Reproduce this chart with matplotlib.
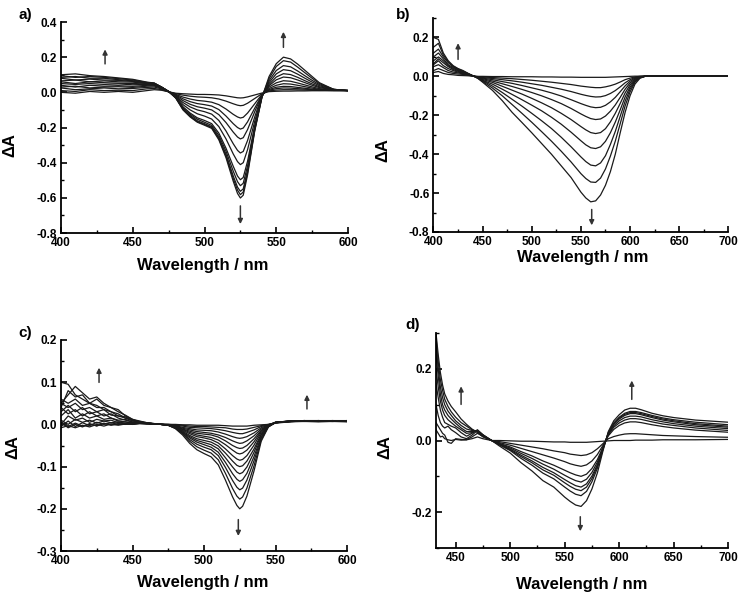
import matplotlib
matplotlib.use("Agg")
import matplotlib.pyplot as plt
import numpy as np

plt.rcParams["font.family"] = ["Liberation Sans", "DejaVu Sans"]
plt.rcParams["font.weight"] = "bold"

# ---------------- panel a ----------------
wl_a = [400, 410, 420, 430, 440, 450, 460, 465, 470, 475, 480, 485, 490, 495, 500, 505, 510, 515,
        520, 523, 525, 527, 530, 535, 540, 545, 550, 555, 560, 565, 570, 575, 580, 590, 600]
curves_a = [
    [0.00, -0.005, 0.005, 0.0, 0.005, 0.0, 0.01, 0.015, 0.012, 0.003, -0.005, -0.008, -0.01, -0.012, -0.012, -0.013, -0.015, -0.02,
     -0.027, -0.031, -0.032, -0.031, -0.026, -0.015, -0.004, 0.004, 0.006, 0.007, 0.007, 0.008, 0.008, 0.009, 0.009, 0.01, 0.01],
    [0.01, 0.005, 0.015, 0.01, 0.012, 0.01, 0.02, 0.022, 0.015, 0.003, -0.008, -0.016, -0.022, -0.026, -0.028, -0.031, -0.038, -0.05,
     -0.065, -0.073, -0.076, -0.074, -0.062, -0.035, -0.008, 0.008, 0.013, 0.015, 0.015, 0.014, 0.013, 0.012, 0.011, 0.01, 0.01],
    [0.025, 0.015, 0.02, 0.025, 0.02, 0.022, 0.028, 0.03, 0.02, 0.003, -0.012, -0.027, -0.038, -0.046, -0.05, -0.056, -0.07, -0.095,
     -0.125, -0.14, -0.146, -0.142, -0.118, -0.065, -0.012, 0.012, 0.021, 0.025, 0.024, 0.021, 0.018, 0.015, 0.012, 0.01, 0.01],
    [0.03, 0.035, 0.025, 0.03, 0.032, 0.028, 0.035, 0.036, 0.024, 0.004, -0.015, -0.037, -0.053, -0.064, -0.07, -0.078, -0.098, -0.135,
     -0.178, -0.2, -0.209, -0.203, -0.168, -0.09, -0.015, 0.016, 0.029, 0.034, 0.033, 0.028, 0.023, 0.018, 0.014, 0.011, 0.01],
    [0.04, 0.03, 0.04, 0.035, 0.038, 0.034, 0.04, 0.04, 0.026, 0.004, -0.018, -0.047, -0.068, -0.082, -0.09, -0.1, -0.127, -0.172,
     -0.226, -0.254, -0.265, -0.258, -0.212, -0.11, -0.016, 0.022, 0.04, 0.049, 0.047, 0.04, 0.032, 0.024, 0.017, 0.012, 0.01],
    [0.05, 0.045, 0.05, 0.045, 0.048, 0.043, 0.045, 0.044, 0.028, 0.004, -0.022, -0.058, -0.083, -0.1, -0.11, -0.124, -0.16, -0.22,
     -0.292, -0.33, -0.345, -0.336, -0.274, -0.14, -0.018, 0.03, 0.054, 0.066, 0.063, 0.053, 0.042, 0.031, 0.021, 0.013, 0.01],
    [0.06, 0.05, 0.06, 0.055, 0.052, 0.05, 0.048, 0.047, 0.029, 0.004, -0.025, -0.07, -0.1, -0.122, -0.135, -0.152, -0.195, -0.265,
     -0.35, -0.394, -0.411, -0.4, -0.326, -0.165, -0.02, 0.038, 0.071, 0.087, 0.083, 0.07, 0.055, 0.04, 0.027, 0.014, 0.01],
    [0.065, 0.07, 0.06, 0.065, 0.06, 0.058, 0.05, 0.049, 0.03, 0.005, -0.028, -0.082, -0.118, -0.145, -0.16, -0.178, -0.232, -0.318,
     -0.42, -0.476, -0.497, -0.484, -0.392, -0.19, -0.022, 0.045, 0.087, 0.106, 0.101, 0.085, 0.066, 0.048, 0.032, 0.015, 0.01],
    [0.08, 0.07, 0.075, 0.07, 0.068, 0.062, 0.052, 0.05, 0.03, 0.005, -0.03, -0.088, -0.125, -0.153, -0.17, -0.188, -0.245, -0.335,
     -0.448, -0.508, -0.531, -0.517, -0.418, -0.2, -0.024, 0.055, 0.105, 0.129, 0.123, 0.103, 0.08, 0.058, 0.038, 0.016, 0.01],
    [0.085, 0.09, 0.08, 0.08, 0.072, 0.066, 0.054, 0.051, 0.03, 0.005, -0.031, -0.093, -0.132, -0.162, -0.178, -0.196, -0.257, -0.352,
     -0.475, -0.539, -0.563, -0.549, -0.442, -0.21, -0.026, 0.066, 0.124, 0.152, 0.145, 0.121, 0.094, 0.068, 0.044, 0.017, 0.01],
    [0.095, 0.085, 0.09, 0.085, 0.078, 0.07, 0.056, 0.052, 0.03, 0.005, -0.032, -0.097, -0.137, -0.167, -0.183, -0.2, -0.263, -0.362,
     -0.49, -0.556, -0.582, -0.567, -0.457, -0.215, -0.028, 0.078, 0.147, 0.18, 0.172, 0.143, 0.111, 0.08, 0.05, 0.017, 0.01],
    [0.1, 0.105, 0.095, 0.09, 0.082, 0.074, 0.058, 0.053, 0.03, 0.005, -0.033, -0.1, -0.14, -0.17, -0.187, -0.205, -0.27, -0.372,
     -0.505, -0.575, -0.601, -0.585, -0.47, -0.22, -0.03, 0.09, 0.163, 0.2, 0.19, 0.16, 0.125, 0.09, 0.055, 0.017, 0.01],
]

# ---------------- panel b ----------------
wl_b = [400, 405, 410, 415, 420, 425, 430, 435, 440, 445, 450, 460, 470, 480, 490, 500, 510, 520, 530, 540,
        550, 555, 560, 565, 570, 575, 580, 585, 590, 595, 600, 605, 610, 615, 620, 630, 650, 700]
curves_b = [
    [0.02, 0.025, 0.015, 0.01, 0.008, 0.005, 0.004, 0.003, 0.001, 0.0, 0.0, -0.001, -0.001, -0.002, -0.002, -0.002, -0.003, -0.003, -0.004, -0.004,
     -0.005, -0.005, -0.005, -0.005, -0.005, -0.005, -0.004, -0.003, -0.002, -0.001, 0.0, 0.001, 0.001, 0.001, 0.001, 0.001, 0.001, 0.001],
    [0.03, 0.04, 0.03, 0.02, 0.015, 0.012, 0.01, 0.006, 0.002, -0.001, -0.003, -0.006, -0.009, -0.012, -0.016, -0.02, -0.025, -0.03, -0.036, -0.042,
     -0.05, -0.053, -0.056, -0.058, -0.058, -0.054, -0.048, -0.04, -0.029, -0.017, -0.009, -0.003, 0.0, 0.001, 0.001, 0.001, 0.001, 0.001],
    [0.05, 0.06, 0.045, 0.03, 0.022, 0.018, 0.013, 0.008, 0.002, -0.003, -0.006, -0.011, -0.017, -0.023, -0.03, -0.038, -0.046, -0.056, -0.066, -0.078,
     -0.092, -0.098, -0.103, -0.106, -0.105, -0.099, -0.088, -0.073, -0.054, -0.033, -0.017, -0.006, -0.001, 0.001, 0.001, 0.001, 0.001, 0.001],
    [0.06, 0.08, 0.055, 0.04, 0.03, 0.022, 0.016, 0.01, 0.003, -0.004, -0.009, -0.017, -0.027, -0.036, -0.047, -0.059, -0.071, -0.085, -0.101, -0.12,
     -0.14, -0.149, -0.157, -0.161, -0.159, -0.149, -0.131, -0.108, -0.079, -0.049, -0.025, -0.009, -0.002, 0.0, 0.001, 0.001, 0.001, 0.001],
    [0.065, 0.09, 0.07, 0.05, 0.035, 0.026, 0.018, 0.011, 0.003, -0.005, -0.012, -0.024, -0.038, -0.052, -0.067, -0.083, -0.1, -0.119, -0.14, -0.165,
     -0.193, -0.206, -0.217, -0.222, -0.219, -0.204, -0.179, -0.147, -0.108, -0.066, -0.034, -0.013, -0.003, 0.0, 0.001, 0.001, 0.001, 0.001],
    [0.08, 0.1, 0.08, 0.055, 0.04, 0.03, 0.02, 0.012, 0.003, -0.006, -0.016, -0.031, -0.051, -0.071, -0.091, -0.113, -0.136, -0.161, -0.19, -0.222,
     -0.258, -0.275, -0.289, -0.294, -0.289, -0.269, -0.234, -0.19, -0.139, -0.085, -0.044, -0.016, -0.004, 0.0, 0.001, 0.001, 0.001, 0.001],
    [0.1, 0.12, 0.09, 0.06, 0.045, 0.033, 0.022, 0.013, 0.003, -0.007, -0.02, -0.04, -0.066, -0.093, -0.12, -0.148, -0.177, -0.21, -0.246, -0.287,
     -0.331, -0.352, -0.367, -0.371, -0.362, -0.334, -0.29, -0.235, -0.172, -0.106, -0.055, -0.021, -0.005, 0.0, 0.001, 0.001, 0.001, 0.001],
    [0.12, 0.14, 0.1, 0.07, 0.05, 0.036, 0.025, 0.014, 0.003, -0.008, -0.022, -0.05, -0.083, -0.118, -0.153, -0.19, -0.228, -0.268, -0.313, -0.362,
     -0.414, -0.438, -0.456, -0.46, -0.445, -0.408, -0.35, -0.283, -0.205, -0.128, -0.066, -0.026, -0.006, 0.0, 0.001, 0.001, 0.001, 0.001],
    [0.15, 0.17, 0.11, 0.075, 0.052, 0.038, 0.027, 0.015, 0.003, -0.009, -0.026, -0.06, -0.1, -0.145, -0.19, -0.236, -0.284, -0.333, -0.385, -0.44,
     -0.5, -0.525, -0.543, -0.545, -0.523, -0.476, -0.41, -0.333, -0.243, -0.152, -0.08, -0.03, -0.008, 0.0, 0.001, 0.001, 0.001, 0.001],
    [0.2, 0.19, 0.12, 0.08, 0.055, 0.04, 0.03, 0.016, 0.003, -0.01, -0.03, -0.072, -0.125, -0.185, -0.237, -0.29, -0.345, -0.4, -0.46, -0.52,
     -0.595, -0.625, -0.645, -0.64, -0.61, -0.56, -0.49, -0.4, -0.29, -0.185, -0.1, -0.04, -0.01, 0.0, 0.001, 0.001, 0.001, 0.001],
]

# ---------------- panel c ----------------
wl_c = [400, 405, 410, 415, 420, 425, 430, 435, 440, 445, 450, 455, 460, 470, 475, 480, 485, 490, 495,
        500, 505, 510, 515, 520, 523, 525, 527, 530, 535, 540, 545, 550, 560, 570, 580, 590, 600]
curves_c = [
    [0.002, -0.005, 0.003, -0.004, 0.0, -0.003, 0.002, -0.001, 0.0, 0.001, 0.0, 0.002, 0.001, 0.001, 0.0, 0.0, -0.001, -0.001, -0.002,
     -0.002, -0.002, -0.002, -0.003, -0.004, -0.004, -0.004, -0.004, -0.004, -0.002, -0.001, 0.0, 0.003, 0.006, 0.007, 0.006, 0.007, 0.006],
    [-0.008, -0.003, -0.008, -0.002, -0.006, 0.0, -0.004, 0.001, -0.002, 0.001, 0.0, 0.002, 0.001, 0.0, 0.0, -0.001, -0.002, -0.004, -0.005,
     -0.005, -0.006, -0.007, -0.008, -0.011, -0.012, -0.012, -0.012, -0.011, -0.007, -0.003, 0.0, 0.004, 0.007, 0.008, 0.007, 0.008, 0.007],
    [0.005, -0.008, 0.0, -0.006, 0.002, -0.004, 0.003, -0.002, 0.002, 0.0, 0.002, 0.003, 0.002, 0.0, 0.0, -0.002, -0.004, -0.007, -0.008,
     -0.009, -0.01, -0.012, -0.015, -0.019, -0.021, -0.022, -0.022, -0.019, -0.013, -0.005, -0.001, 0.004, 0.006, 0.009, 0.008, 0.007, 0.008],
    [-0.005, 0.008, -0.005, 0.004, -0.003, 0.005, 0.0, 0.004, 0.0, 0.003, 0.001, 0.003, 0.002, 0.0, -0.001, -0.003, -0.007, -0.01, -0.013,
     -0.014, -0.015, -0.018, -0.023, -0.029, -0.032, -0.033, -0.032, -0.029, -0.02, -0.008, -0.001, 0.005, 0.007, 0.008, 0.009, 0.008, 0.007],
    [0.01, 0.0, 0.012, 0.005, 0.01, 0.003, 0.008, 0.004, 0.006, 0.002, 0.003, 0.004, 0.002, 0.0, -0.001, -0.004, -0.009, -0.013, -0.017,
     -0.019, -0.021, -0.025, -0.031, -0.039, -0.043, -0.045, -0.044, -0.039, -0.027, -0.011, -0.002, 0.004, 0.008, 0.007, 0.008, 0.009, 0.008],
    [0.0, 0.02, 0.01, 0.015, 0.005, 0.012, 0.008, 0.01, 0.004, 0.006, 0.002, 0.004, 0.003, 0.0, -0.001, -0.005, -0.011, -0.016, -0.021,
     -0.023, -0.025, -0.03, -0.039, -0.05, -0.055, -0.057, -0.056, -0.05, -0.034, -0.014, -0.002, 0.005, 0.007, 0.009, 0.008, 0.007, 0.009],
    [0.02, 0.035, 0.015, 0.025, 0.015, 0.02, 0.012, 0.015, 0.008, 0.006, 0.004, 0.005, 0.003, 0.0, -0.001, -0.005, -0.012, -0.019, -0.025,
     -0.028, -0.031, -0.037, -0.048, -0.061, -0.068, -0.07, -0.068, -0.061, -0.041, -0.016, -0.003, 0.004, 0.008, 0.008, 0.009, 0.008, 0.008],
    [0.04, 0.025, 0.035, 0.02, 0.03, 0.02, 0.025, 0.015, 0.01, 0.012, 0.005, 0.006, 0.003, 0.0, -0.001, -0.006, -0.014, -0.022, -0.029,
     -0.032, -0.036, -0.044, -0.058, -0.074, -0.082, -0.085, -0.083, -0.074, -0.049, -0.019, -0.003, 0.005, 0.007, 0.009, 0.008, 0.009, 0.008],
    [0.03, 0.045, 0.03, 0.04, 0.025, 0.03, 0.02, 0.025, 0.015, 0.01, 0.006, 0.005, 0.003, 0.0, -0.002, -0.007, -0.016, -0.026, -0.034,
     -0.038, -0.042, -0.051, -0.068, -0.087, -0.097, -0.1, -0.098, -0.087, -0.058, -0.023, -0.004, 0.004, 0.008, 0.008, 0.009, 0.008, 0.009],
    [0.05, 0.04, 0.05, 0.035, 0.04, 0.03, 0.035, 0.022, 0.02, 0.015, 0.008, 0.006, 0.003, 0.0, -0.002, -0.008, -0.018, -0.029, -0.038,
     -0.043, -0.048, -0.058, -0.079, -0.101, -0.113, -0.117, -0.114, -0.101, -0.066, -0.025, -0.004, 0.005, 0.008, 0.009, 0.008, 0.009, 0.008],
    [0.06, 0.05, 0.06, 0.045, 0.05, 0.04, 0.04, 0.03, 0.025, 0.015, 0.01, 0.007, 0.004, 0.0, -0.002, -0.008, -0.019, -0.032, -0.042,
     -0.048, -0.054, -0.066, -0.09, -0.117, -0.13, -0.135, -0.131, -0.116, -0.076, -0.029, -0.005, 0.004, 0.007, 0.009, 0.009, 0.008, 0.009],
    [0.04, 0.08, 0.065, 0.07, 0.05, 0.06, 0.045, 0.04, 0.03, 0.022, 0.012, 0.006, 0.003, 0.0, -0.002, -0.009, -0.021, -0.036, -0.047,
     -0.054, -0.06, -0.074, -0.102, -0.133, -0.149, -0.155, -0.151, -0.132, -0.086, -0.032, -0.005, 0.005, 0.008, 0.008, 0.009, 0.009, 0.008],
    [0.1, 0.095, 0.07, 0.06, 0.05, 0.045, 0.035, 0.03, 0.02, 0.018, 0.01, 0.005, 0.002, 0.0, -0.002, -0.009, -0.022, -0.04, -0.053,
     -0.061, -0.068, -0.084, -0.116, -0.152, -0.17, -0.177, -0.172, -0.151, -0.098, -0.036, -0.006, 0.004, 0.007, 0.009, 0.008, 0.009, 0.009],
    [0.05, 0.07, 0.09, 0.075, 0.06, 0.065, 0.05, 0.04, 0.035, 0.02, 0.012, 0.008, 0.004, 0.0, -0.002, -0.01, -0.025, -0.045, -0.06,
     -0.069, -0.077, -0.096, -0.132, -0.172, -0.192, -0.2, -0.194, -0.17, -0.11, -0.04, -0.006, 0.005, 0.008, 0.009, 0.009, 0.008, 0.009],
]

# ---------------- panel d ----------------
wl_d = [432, 434, 436, 438, 440, 443, 446, 450, 455, 460, 465, 470, 475, 483, 490, 500, 510, 520, 530, 540,
        550, 555, 560, 565, 570, 575, 580, 585, 590, 595, 600, 605, 610, 615, 620, 630, 640, 650, 670, 700]
curves_d = [
    [0.03, 0.02, 0.01, 0.012, 0.005, 0.002, 0.0, 0.003, 0.001, 0.002, 0.005, 0.01, 0.005, 0.0, 0.0, -0.001, -0.002, -0.002, -0.003, -0.004,
     -0.004, -0.005, -0.005, -0.005, -0.005, -0.004, -0.003, -0.002, -0.001, 0.0, 0.0, 0.0, 0.0, 0.001, 0.001, 0.001, 0.002, 0.002, 0.002, 0.003],
    [0.05, 0.04, 0.03, 0.02, 0.015, -0.005, -0.008, 0.005, 0.003, 0.002, 0.01, 0.02, 0.012, 0.0, -0.003, -0.008, -0.013, -0.018, -0.023, -0.029,
     -0.034, -0.038, -0.04, -0.042, -0.04, -0.034, -0.023, -0.009, 0.005, 0.011, 0.015, 0.018, 0.019, 0.019, 0.018, 0.016, 0.014, 0.013, 0.011, 0.009],
    [0.1, 0.07, 0.05, 0.04, 0.035, 0.04, 0.03, 0.022, 0.01, 0.005, 0.015, 0.028, 0.016, 0.0, -0.006, -0.013, -0.022, -0.031, -0.04, -0.049,
     -0.059, -0.065, -0.069, -0.072, -0.068, -0.057, -0.039, -0.014, 0.013, 0.031, 0.042, 0.049, 0.052, 0.052, 0.05, 0.044, 0.039, 0.035, 0.029, 0.023],
    [0.16, 0.12, 0.085, 0.065, 0.05, 0.045, 0.04, 0.035, 0.022, 0.012, 0.02, 0.03, 0.016, 0.0, -0.008, -0.018, -0.031, -0.043, -0.057, -0.069,
     -0.083, -0.09, -0.096, -0.1, -0.094, -0.078, -0.053, -0.019, 0.016, 0.037, 0.049, 0.057, 0.061, 0.061, 0.059, 0.052, 0.046, 0.042, 0.035, 0.028],
    [0.2, 0.15, 0.11, 0.085, 0.07, 0.058, 0.05, 0.04, 0.03, 0.02, 0.022, 0.028, 0.015, 0.0, -0.009, -0.021, -0.036, -0.05, -0.066, -0.08,
     -0.097, -0.105, -0.112, -0.116, -0.108, -0.089, -0.06, -0.021, 0.018, 0.041, 0.055, 0.064, 0.068, 0.068, 0.066, 0.058, 0.052, 0.047, 0.04, 0.033],
    [0.24, 0.18, 0.13, 0.1, 0.085, 0.07, 0.06, 0.048, 0.035, 0.025, 0.025, 0.027, 0.014, 0.0, -0.01, -0.024, -0.041, -0.057, -0.075, -0.09,
     -0.109, -0.118, -0.126, -0.13, -0.121, -0.099, -0.067, -0.023, 0.02, 0.045, 0.06, 0.07, 0.075, 0.075, 0.072, 0.064, 0.057, 0.052, 0.044, 0.037],
    [0.27, 0.2, 0.15, 0.12, 0.1, 0.082, 0.07, 0.055, 0.042, 0.032, 0.028, 0.025, 0.013, 0.0, -0.011, -0.026, -0.045, -0.062, -0.082, -0.097,
     -0.118, -0.128, -0.136, -0.14, -0.13, -0.106, -0.071, -0.024, 0.021, 0.047, 0.063, 0.073, 0.078, 0.078, 0.075, 0.067, 0.06, 0.055, 0.047, 0.04],
    [0.29, 0.22, 0.17, 0.14, 0.115, 0.095, 0.08, 0.065, 0.05, 0.04, 0.03, 0.025, 0.012, 0.0, -0.012, -0.028, -0.05, -0.069, -0.091, -0.107,
     -0.13, -0.141, -0.15, -0.154, -0.142, -0.115, -0.077, -0.026, 0.022, 0.049, 0.065, 0.076, 0.081, 0.081, 0.078, 0.07, 0.063, 0.058, 0.051, 0.044],
    [0.3, 0.24, 0.19, 0.155, 0.13, 0.11, 0.095, 0.08, 0.06, 0.045, 0.032, 0.022, 0.01, 0.0, -0.015, -0.035, -0.062, -0.085, -0.112, -0.13,
     -0.158, -0.17, -0.18, -0.184, -0.168, -0.135, -0.09, -0.03, 0.025, 0.055, 0.072, 0.085, 0.09, 0.09, 0.086, 0.076, 0.069, 0.064, 0.057, 0.051],
]

fig = plt.figure(figsize=(7.4, 5.96), dpi=100)

def px_box(l, t, r, b):
    return [l / 740, 1 - b / 596, (r - l) / 740, (b - t) / 596]

def yfmt(v, pos):
    return "%.1f" % (0.0 if abs(v) < 1e-9 else v)

def style(ax, xlim, ylim, xmaj, ymaj):
    ax.spines["top"].set_visible(False)
    ax.spines["right"].set_visible(False)
    for s in ("left", "bottom"):
        ax.spines[s].set_linewidth(1.3)
    ax.set_xticks(np.arange(xmaj[0], xmaj[1] + 1, xmaj[2]))
    ax.set_xticks(np.arange(xmaj[0] - xmaj[2] / 2, xmaj[1] + 1, xmaj[2] / 2), minor=True)
    ax.set_yticks(np.arange(ymaj[0], ymaj[1] + 1e-9, ymaj[2]))
    ax.set_yticks(np.arange(ylim[0], ylim[1] + 1e-9, ymaj[2] / 2), minor=True)
    ax.yaxis.set_major_formatter(plt.FuncFormatter(yfmt))
    ax.tick_params(which="major", direction="in", length=4, width=1.2, labelsize=8.5, pad=3)
    ax.tick_params(which="minor", direction="in", length=2.5, width=1.0)
    for lab in ax.get_xticklabels() + ax.get_yticklabels():
        lab.set_fontweight("bold")
    # limits last, so the tick lists do not widen them
    ax.set_xlim(*xlim)
    ax.set_ylim(*ylim)

def arrow(ax, x, y0, y1):
    ax.annotate("", xy=(x, y1), xytext=(x, y0),
                arrowprops=dict(arrowstyle="-|>", color="#333333", lw=1.1, mutation_scale=7))

col = "#1a1a1a"

ax = fig.add_axes(px_box(61, 22, 348, 233))
for c in curves_a:
    ax.plot(wl_a, c, color=col, lw=0.9)
style(ax, (400, 600), (-0.8, 0.4), (400, 600, 50), (-0.8, 0.4, 0.2))
arrow(ax, 430.7, 0.146, 0.26)
arrow(ax, 555, 0.24, 0.36)
arrow(ax, 525, -0.63, -0.765)

ax = fig.add_axes(px_box(433.5, 18, 728.3, 232))
for c in curves_b:
    ax.plot(wl_b, c, color=col, lw=0.9)
style(ax, (400, 700), (-0.8, 0.3), (400, 700, 50), (-0.8, 0.2, 0.2))
arrow(ax, 425, 0.073, 0.185)
arrow(ax, 561, -0.67, -0.78)

ax = fig.add_axes(px_box(61, 340, 347, 551))
for c in curves_c:
    ax.plot(wl_c, c, color=col, lw=0.9)
style(ax, (400, 600), (-0.3, 0.2), (400, 600, 50), (-0.3, 0.2, 0.1))
arrow(ax, 426.6, 0.093, 0.141)
arrow(ax, 572, 0.03, 0.077)
arrow(ax, 524, -0.219, -0.271)

ax = fig.add_axes(px_box(436, 333, 728.3, 548))
for c in curves_d:
    ax.plot(wl_d, c, color=col, lw=0.9)
style(ax, (432, 700), (-0.3, 0.3), (450, 700, 50), (-0.2, 0.2, 0.2))
arrow(ax, 455, 0.093, 0.159)
arrow(ax, 611.5, 0.107, 0.175)
arrow(ax, 564.3, -0.205, -0.261)

# axis titles and panel letters, placed in pixels
def ftext(x, y, s, **kw):
    fig.text(x / 740, 1 - y / 596, s, ha="center", va="center", fontweight="bold", **kw)

for x, y in [(10, 145), (383, 150), (13, 447), (385, 447)]:
    ftext(x, y, "ΔA", fontsize=12, rotation=90)
for x, y in [(203, 265), (583, 257), (203, 582), (582, 585)]:
    ftext(x, y, "Wavelength / nm", fontsize=12)
for x, y, s in [(25, 15, "a)"), (403, 15, "b)"), (25, 333, "c)"), (413, 325, "d)")]:
    ftext(x, y, s, fontsize=11)

fig.savefig("out.png", dpi=100)
